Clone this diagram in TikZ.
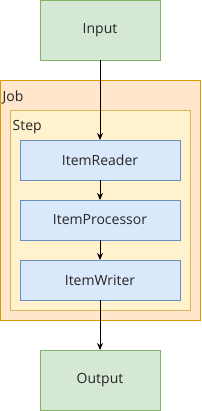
\documentclass[tikz,border=0pt]{standalone}
\usepackage{fontspec}
\setmainfont{Open Sans}
\usetikzlibrary{arrows.meta}
\definecolor{gfill}{HTML}{D5E8D4}\definecolor{gline}{HTML}{82B366}
\definecolor{ofill}{HTML}{FFE6CC}\definecolor{oline}{HTML}{D79B00}
\definecolor{yfill}{HTML}{FFF2CC}\definecolor{yline}{HTML}{D6B656}
\definecolor{bfill}{HTML}{DAE8FC}\definecolor{bline}{HTML}{6C8EBF}
\begin{document}
\begin{tikzpicture}[x=1pt,y=-1pt,
  every node/.style={font=\fontsize{14}{16}\selectfont,text=black!85},
  io/.style={draw=gline,fill=gfill,line width=0.9pt},
  itembox/.style={draw=bline,fill=bfill,line width=0.9pt},
  conn/.style={-{Stealth[length=7pt,width=6pt]},line width=0.9pt}]
\useasboundingbox (0,0) rectangle (201,411);
\draw[io] (40,0.5) rectangle (160,60);
\node (in) at (100,30) {Input};
\coordinate (inb) at (100,60);
\draw[draw=oline,fill=ofill,line width=0.9pt] (0.5,80) rectangle (200,320);
\node[anchor=west,inner sep=0pt] (job) at (2.5,97.5) {Job};
\draw[draw=yline,fill=yfill,line width=0.9pt] (10,110) rectangle (190,310);
\node[anchor=west,inner sep=0pt] (step) at (12.5,127.5) {Step};
\draw[itembox] (20,140) rectangle (180,180);
\node (r) at (100,160) {ItemReader};
\draw[itembox] (20,200) rectangle (180,240);
\node (p) at (100,220) {ItemProcessor};
\draw[itembox] (20,260) rectangle (180,300);
\node (w) at (100,280) {ItemWriter};
\draw[io] (40,350) rectangle (160,410.5);
\node (out) at (100,380) {Output};
\coordinate (rt) at (100,140);
\coordinate (rb) at (100,180);
\coordinate (pt) at (100,200);
\coordinate (pb) at (100,240);
\coordinate (wt) at (100,260);
\coordinate (wb) at (100,300);
\coordinate (ot) at (100,350);
\draw[conn] (inb) -- (rt);
\draw[conn] (rb) -- (pt);
\draw[conn] (pb) -- (wt);
\draw[conn] (wb) -- (ot);
\end{tikzpicture}
\end{document}
